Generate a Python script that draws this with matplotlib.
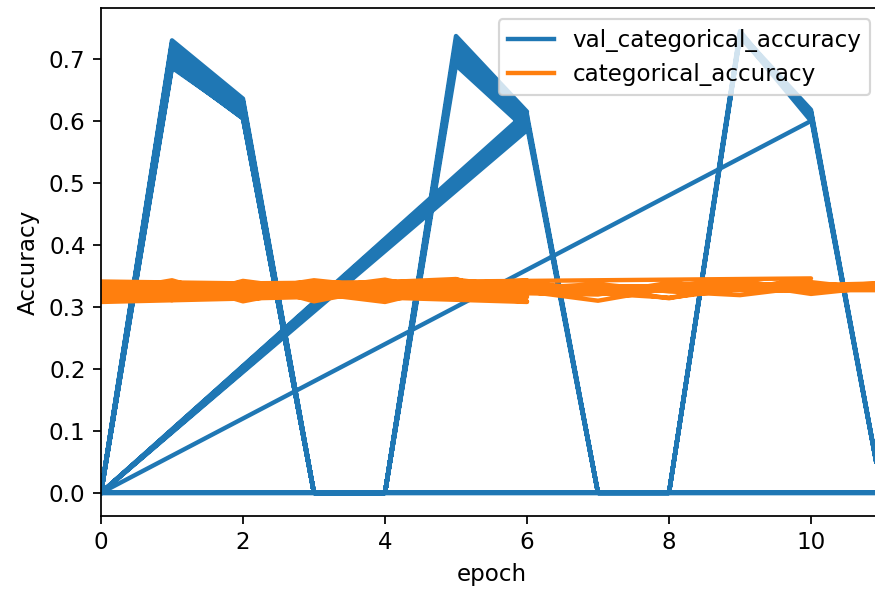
import matplotlib
matplotlib.use("Agg")
import matplotlib.pyplot as plt

# validation accuracy per training run (runs were appended one after another)
val_runs = [
    [0, 0.700, 0.612, 0, 0, 0.715, 0.598, 0, 0, 0.745, 0.605, 0],
    [0, 0.688, 0.604, 0, 0, 0.706, 0.610, 0, 0, 0.740, 0.615, 0],
    [0, 0.714, 0.622, 0, 0, 0.726, 0.592, 0, 0, 0.738, 0.608, 0],
    [0, 0.726, 0.632, 0, 0, 0.700, 0.604, 0, 0, 0.742, 0.618, 0],
    [0, 0.730, 0.636, 0, 0, 0.737, 0.615],
    [0, 0.718, 0.628, 0, 0, 0.728, 0.606],
    [0, 0.706, 0.620, 0, 0, 0.720, 0.612],
    [0, 0.694, 0.614, 0, 0, 0.708, 0.596],
    [0, 0.686, 0.606, 0, 0, 0.699, 0.590],
    [0, 0.712, 0.630, 0, 0, 0.690, 0.585],
    [0, 0.724, 0.624, 0, 0, 0.712, 0.602],
    [0, 0.690, 0.604, 0, 0, 0.724, 0.608],
    [0, 0.702, 0.618, 0, 0, 0.704, 0.594],
    [0, 0.708, 0.610, 0, 0, 0.722, 0.600, 0, 0, 0.738, 0.600],
    [0, 0.696, 0.608, 0, 0, 0.716, 0.604, 0, 0, 0.735, 0.612, 0],
]

# training accuracy for the same runs
acc_runs = [
    [0.318, 0.332, 0.327, 0.336, 0.329, 0.334, 0.325, 0.310, 0.330, 0.338, 0.321, 0.333],
    [0.334, 0.321, 0.339, 0.325, 0.341, 0.319, 0.338, 0.329, 0.314, 0.334, 0.340, 0.327],
    [0.327, 0.340, 0.315, 0.331, 0.320, 0.344, 0.330, 0.337, 0.325, 0.319, 0.333, 0.338],
    [0.308, 0.326, 0.333, 0.318, 0.337, 0.327, 0.322, 0.320, 0.339, 0.328, 0.326, 0.331],
    [0.335, 0.322, 0.340, 0.309, 0.331, 0.326, 0.343],
    [0.312, 0.328, 0.319, 0.337, 0.323, 0.341, 0.316],
    [0.326, 0.340, 0.314, 0.329, 0.344, 0.320, 0.332],
    [0.341, 0.316, 0.333, 0.322, 0.308, 0.336, 0.327],
    [0.320, 0.337, 0.325, 0.343, 0.331, 0.314, 0.339],
    [0.330, 0.311, 0.342, 0.327, 0.336, 0.329, 0.318],
    [0.315, 0.334, 0.321, 0.316, 0.340, 0.345, 0.309],
    [0.338, 0.325, 0.330, 0.339, 0.313, 0.323, 0.335],
    [0.323, 0.343, 0.309, 0.331, 0.327, 0.338, 0.308],
    [0.329, 0.319, 0.336, 0.324, 0.342, 0.317, 0.341, 0.322, 0.315, 0.329, 0.346],
    [0.336, 0.327, 0.322, 0.340, 0.320, 0.331, 0.337, 0.328, 0.334, 0.343, 0.324, 0.336],
]

epoch, val_acc, train_acc = [], [], []
for v, a in zip(val_runs, acc_runs):
    epoch += list(range(len(v)))
    val_acc += v
    train_acc += a

plt.rcParams["font.size"] = 10.5

dpi = 158
fig = plt.figure(figsize=(875 / dpi, 595 / dpi), dpi=dpi)
ax = fig.add_axes([0.1154, 0.1328, 0.8926, 0.8538])

ax.plot(epoch, val_acc, color="#1f77b4", lw=2.0, label="val_categorical_accuracy")
ax.plot(epoch, train_acc, color="#ff7f0e", lw=2.0, label="categorical_accuracy")

ax.set_xlim(0, 11)
ax.set_xticks([0, 2, 4, 6, 8, 10])
ax.set_xlabel("epoch")
ax.set_ylabel("Accuracy")
ax.legend(loc="upper right")

fig.savefig("out.png", dpi=dpi)
